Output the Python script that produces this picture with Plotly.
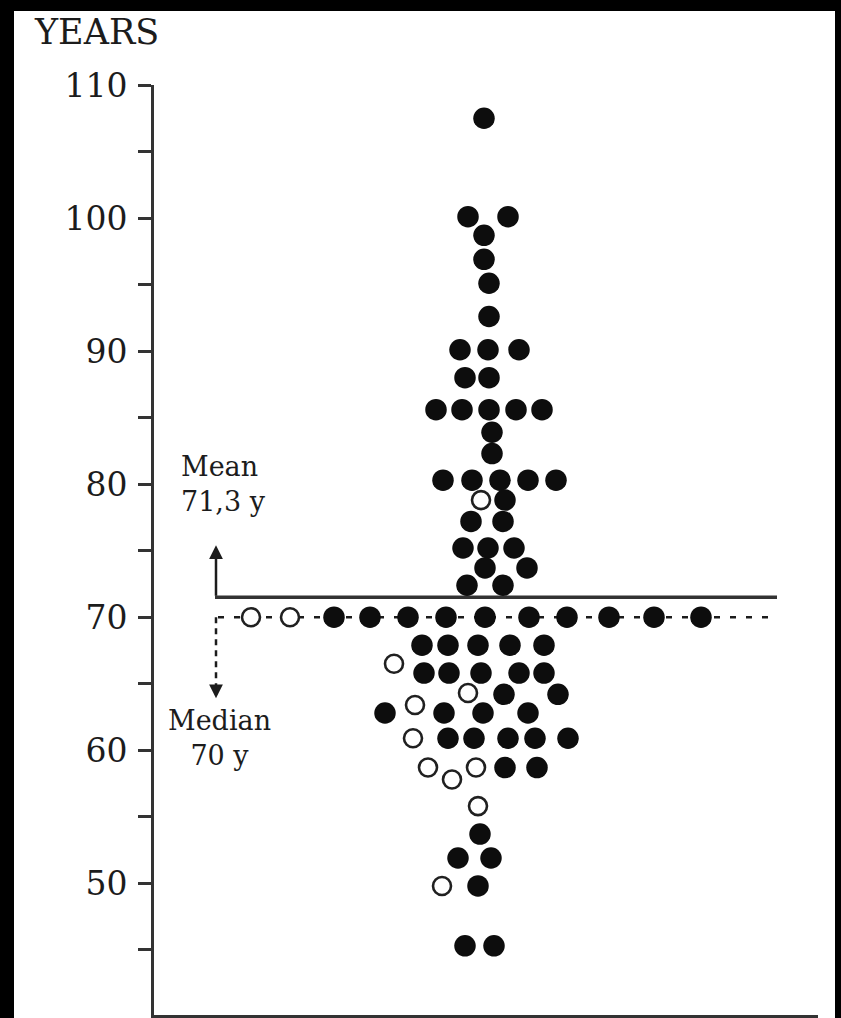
import plotly.graph_objects as go

# ---- data (age in years; horizontal slot of each dot in the dot-plot) ----
FILLED_AGE = [107.5,
              100.1, 100.1, 98.7, 96.9, 95.1, 92.6,
              90.1, 90.1, 90.1,
              88.0, 88.0,
              85.6, 85.6, 85.6, 85.6, 85.6,
              83.9, 82.3,
              80.3, 80.3, 80.3, 80.3, 80.3,
              78.8,
              77.2, 77.2,
              75.2, 75.2, 75.2,
              73.7, 73.7,
              72.4, 72.4,
              70, 70, 70, 70, 70, 70, 70, 70, 70, 70,
              67.9, 67.9, 67.9, 67.9, 67.9,
              65.8, 65.8, 65.8, 65.8, 65.8,
              64.2, 64.2,
              62.8, 62.8, 62.8, 62.8,
              60.9, 60.9, 60.9, 60.9, 60.9,
              58.7, 58.7,
              53.7,
              51.9, 51.9,
              49.8,
              45.3, 45.3]
FILLED_SLOT = [330,
               314, 354, 330, 330, 335, 335,
               306, 334, 365,
               311, 335,
               282, 308, 335, 362, 388,
               338, 338,
               289, 318, 346, 374, 402,
               351,
               317, 349,
               309, 334, 360,
               331, 373,
               313, 349,
               180, 216, 254, 292, 331, 375, 413, 455, 500, 547,
               268, 294, 324, 356, 390,
               270, 295, 327, 365, 390,
               350, 404,
               231, 290, 329, 374,
               294, 320, 354, 381, 414,
               351, 383,
               326,
               304, 337,
               324,
               311, 340]

OPEN_AGE = [78.8, 70, 70, 66.5, 64.3, 63.4, 60.9, 58.7, 57.8, 58.7, 55.8, 49.8]
OPEN_SLOT = [327, 97, 136, 240, 314, 261, 259, 274, 298, 322, 324, 288]

MEAN_LABEL = "Mean<br>71,3 y"
MEDIAN_LABEL = "Median<br>70 y"
MEAN_LINE = 71.5
MEDIAN_LINE = 70
MAJOR_TICKS = [50, 60, 70, 80, 90, 100, 110]
MINOR_TICKS = [45, 55, 65, 75, 85, 95, 105]
Y_TITLE = "YEARS"

INK = "#1c1c1c"
FONT = "DejaVu Serif"

fig = go.Figure()

fig.add_trace(go.Scatter(
    x=FILLED_SLOT, y=FILLED_AGE, mode="markers",
    marker=dict(size=21.5, color="#0d0d0d", line=dict(width=0)),
    hoverinfo="skip", showlegend=False))
fig.add_trace(go.Scatter(
    x=OPEN_SLOT, y=OPEN_AGE, mode="markers",
    marker=dict(size=18, color="white", line=dict(width=2.6, color="#202020")),
    hoverinfo="skip", showlegend=False))

L, R, T, B = 154, 23, 85, 3
W, H = 841, 1018
pw, ph = W - L - R, H - T - B

def px_x(p):
    return (p - L) / pw

def px_y(p):
    return (H - B - p) / ph

shapes = [
    # white sheet on black surround
    dict(type="rect", xref="paper", yref="paper", x0=px_x(14), x1=px_x(835),
         y0=px_y(1030), y1=px_y(11), fillcolor="white", line=dict(width=0), layer="below"),
    # median dashed line
    dict(type="line", xref="x", yref="y", x0=64, x1=623, y0=MEDIAN_LINE, y1=MEDIAN_LINE,
         line=dict(color=INK, width=2.5, dash="6px,10px"), layer="below"),
    # mean solid line
    dict(type="line", xref="x", yref="y", x0=61, x1=623, y0=MEAN_LINE, y1=MEAN_LINE,
         line=dict(color="#333", width=3.5), layer="below"),
    # dashed down stem
    dict(type="line", xref="x", yref="y", x0=62, x1=62, y0=MEDIAN_LINE, y1=64.6,
         line=dict(color=INK, width=2.5, dash="6px,5px"), layer="below"),
]

annotations = [
    dict(x=62, y=75.4, ax=62, ay=MEAN_LINE, xref="x", yref="y", axref="x", ayref="y",
         text="", showarrow=True, arrowhead=2, arrowsize=1.1, arrowwidth=2.5, arrowcolor=INK),
    dict(x=62, y=63.9, ax=62, ay=64.8, xref="x", yref="y", axref="x", ayref="y",
         text="", showarrow=True, arrowhead=2, arrowsize=1.1, arrowwidth=2.5, arrowcolor=INK),
    dict(x=69, y=80.0, xref="x", yref="y", text=MEAN_LABEL, showarrow=False,
         font=dict(family=FONT, size=27, color=INK), align="left", xanchor="center"),
    dict(x=65, y=60.9, xref="x", yref="y", text=MEDIAN_LABEL, showarrow=False,
         font=dict(family=FONT, size=27, color=INK), align="center", xanchor="center"),
    dict(x=px_x(96), y=px_y(32), xref="paper", yref="paper", text=Y_TITLE, showarrow=False,
         font=dict(family=FONT, size=35, color=INK), xanchor="center", yanchor="middle"),
]

fig.update_layout(
    width=W, height=H,
    margin=dict(l=L, r=R, t=T, b=B, pad=0),
    paper_bgcolor="black", plot_bgcolor="white",
    shapes=shapes, annotations=annotations,
    xaxis=dict(range=[0, pw], showline=True, linewidth=3, linecolor="#333",
               showticklabels=False, ticks="", showgrid=False, zeroline=False),
    yaxis=dict(range=[40.1, 110], showline=True, linewidth=3, linecolor="#333",
               tickvals=MAJOR_TICKS, ticks="outside", ticklen=13, tickwidth=2.5, tickcolor="#333",
               minor=dict(tickvals=MINOR_TICKS, ticks="outside", ticklen=13, tickwidth=2.5,
                          tickcolor="#333"),
               tickfont=dict(family=FONT, size=33, color=INK),
               ticklabelstandoff=4,
               showgrid=False, zeroline=False),
)

fig.write_html(
    "out.html",
    config={"displayModeBar": False},
    post_script="document.body.style.margin='0px';document.body.style.background='black';",
)
